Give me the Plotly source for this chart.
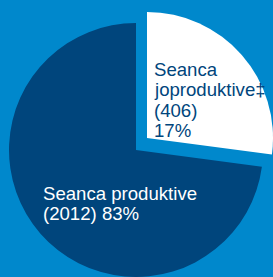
import plotly.graph_objects as go

# Data
categories = ["Seanca joproduktive‡", "Seanca produktive"]
counts = [406, 2012]
percent_labels = ["17%", "83%"]
# drawn slice shares
drawn_shares = [27.1, 72.9]

W, H = 273, 277
BG = "#0088cc"
NAVY = "#00457c"
WHITE = "#ffffff"


def px_x(x):
    return x / W


def px_y(y):
    return 1 - y / H


fig = go.Figure()

# dark (productive) slice, centred at (136,150), radius 127
fig.add_trace(go.Pie(
    labels=categories, values=drawn_shares, sort=False, direction="clockwise",
    rotation=0, marker=dict(colors=["rgba(0,0,0,0)", NAVY], line=dict(width=0)),
    textinfo="none", hoverinfo="label+value", showlegend=False,
    domain=dict(x=[px_x(9), px_x(263)], y=[px_y(277), px_y(23)]),
))
# white (non-productive) slice, exploded outward
fig.add_trace(go.Pie(
    labels=categories, values=drawn_shares, sort=False, direction="clockwise",
    rotation=0, marker=dict(colors=[WHITE, "rgba(0,0,0,0)"], line=dict(width=0)),
    textinfo="none", hoverinfo="label+value", showlegend=False,
    domain=dict(x=[px_x(21), px_x(273)], y=[px_y(264), px_y(12)]),
))

FONT = "Liberation Sans, Arial, sans-serif"
FS = 18.6

white_lines = ["Seanca", "joproduktive‡", f"({counts[0]})", percent_labels[0]]
white_baselines = [75.7, 96.0, 116.7, 136.7]
for txt, b in zip(white_lines, white_baselines):
    fig.add_annotation(text=txt, x=px_x(152), y=px_y(b - 6.5), xref="paper", yref="paper",
                       xanchor="left", yanchor="middle", showarrow=False,
                       font=dict(family=FONT, size=FS, color=NAVY))

dark_lines = ["Seanca produktive", f"({counts[1]}) {percent_labels[1]}"]
dark_baselines = [200.0, 220.0]
for txt, b in zip(dark_lines, dark_baselines):
    fig.add_annotation(text=txt, x=px_x(41), y=px_y(b - 6.5), xref="paper", yref="paper",
                       xanchor="left", yanchor="middle", showarrow=False,
                       font=dict(family=FONT, size=FS, color=WHITE))

fig.update_layout(
    width=W, height=H, margin=dict(l=0, r=0, t=0, b=0),
    paper_bgcolor=BG, plot_bgcolor=BG,
)

fig.write_html(
    "out.html",
    config={"displayModeBar": False},
    post_script="document.body.style.margin='0';document.body.style.overflow='hidden';document.body.style.background='" + BG + "';",
)
